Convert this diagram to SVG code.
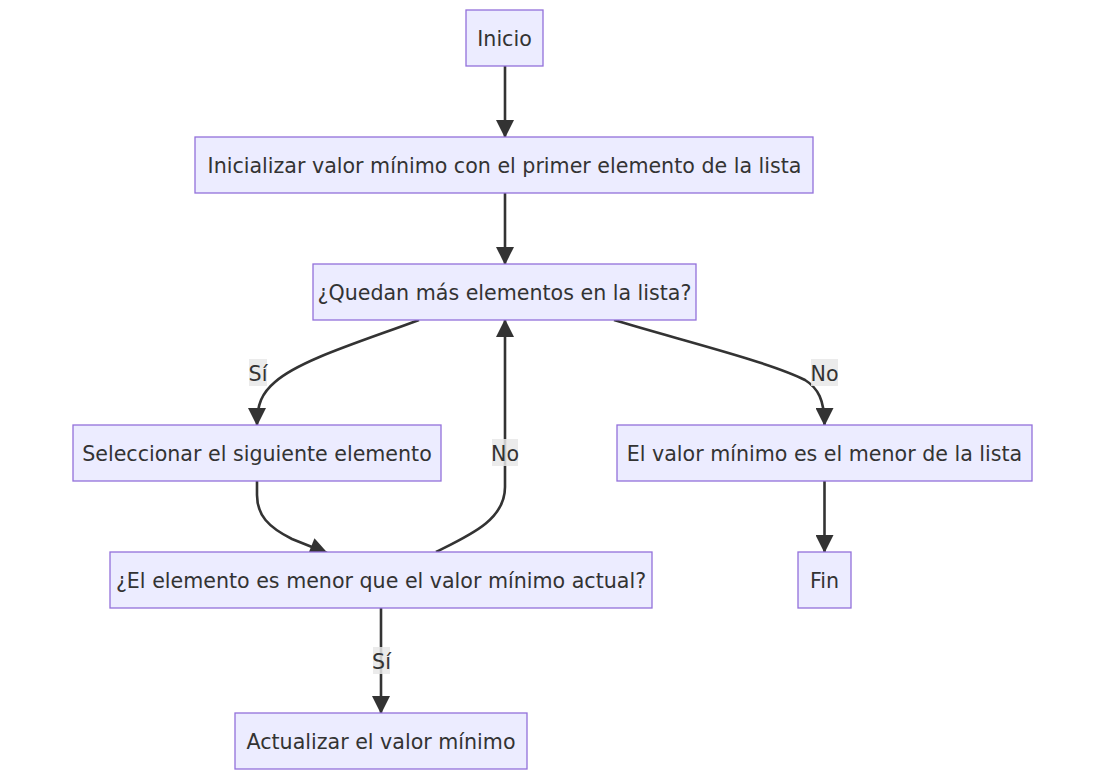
<svg xmlns="http://www.w3.org/2000/svg" width="1095" height="779" viewBox="0 0 1095 779">
<style>
.node rect{fill:#ECECFF;stroke:#9370DB;stroke-width:1.3}
.node text,.lbl text{font-family:"DejaVu Sans",sans-serif;font-size:20.6px;fill:#333;text-anchor:middle}
.edge{fill:none;stroke:#333;stroke-width:2.6}
.lbl rect{fill:#e8e8e8;fill-opacity:0.85}
</style>
<defs>
<marker id="arr" viewBox="0 0 10 10" refX="9.5" refY="5" markerUnits="userSpaceOnUse" markerWidth="19" markerHeight="18" orient="auto">
<path d="M0,0 L10,5 L0,10 z" fill="#333"/>
</marker>
</defs>
<rect width="1095" height="779" fill="#fff"/>
<g id="connectors">
<path class="edge" marker-end="url(#arr)" d="M505,66 L505,137"/>
<path class="edge" marker-end="url(#arr)" d="M505,193 L505,264"/>
<path class="edge" marker-end="url(#arr)" d="M419,320 C360,342 300,360 275,382 C262,393 257,404 257,425"/>
<path class="edge" marker-end="url(#arr)" d="M614,320 C680,340 770,362 805,380 C818,388 824.5,400 824.5,425"/>
<path class="edge" marker-end="url(#arr)" d="M257,481 L257,495 C257,515 268,527 292,539 L327,553"/>
<path class="edge" marker-end="url(#arr)" d="M436,552 C470,535 505,520 505,487 L505,320"/>
<path class="edge" marker-end="url(#arr)" d="M381,608 L381,713"/>
<path class="edge" marker-end="url(#arr)" d="M824.5,481 L824.5,552"/>
</g>
<g id="edge-labels">
<g class="lbl"><rect x="249" y="359" width="18" height="27"/><text x="258" y="380.5">Sí</text></g>
<g class="lbl"><rect x="811" y="359" width="27" height="27"/><text x="824.5" y="380.5">No</text></g>
<g class="lbl"><rect x="492" y="439" width="26" height="27"/><text x="505" y="460.5">No</text></g>
<g class="lbl"><rect x="373" y="647" width="17" height="27"/><text x="381.5" y="668.5">Sí</text></g>
</g>
<g id="inicio" class="node"><rect x="466" y="10" width="77" height="56"/><text x="504.5" y="45.5">Inicio</text></g>
<g id="inicializar" class="node"><rect x="195" y="137" width="618" height="56"/><text x="504.5" y="172.5">Inicializar valor mínimo con el primer elemento de la lista</text></g>
<g id="quedan" class="node"><rect x="313" y="264" width="383" height="56"/><text x="504.5" y="299.5">¿Quedan más elementos en la lista?</text></g>
<g id="seleccionar" class="node"><rect x="73" y="425" width="368" height="56"/><text x="257" y="460.5">Seleccionar el siguiente elemento</text></g>
<g id="valor-minimo" class="node"><rect x="617" y="425" width="415" height="56"/><text x="824.5" y="460.5">El valor mínimo es el menor de la lista</text></g>
<g id="comparar" class="node"><rect x="110" y="552" width="542" height="56"/><text x="381" y="587.5">¿El elemento es menor que el valor mínimo actual?</text></g>
<g id="fin" class="node"><rect x="798" y="552" width="53" height="56"/><text x="824.5" y="587.5">Fin</text></g>
<g id="actualizar" class="node"><rect x="235" y="713" width="292" height="56"/><text x="381" y="748.5">Actualizar el valor mínimo</text></g>
</svg>
